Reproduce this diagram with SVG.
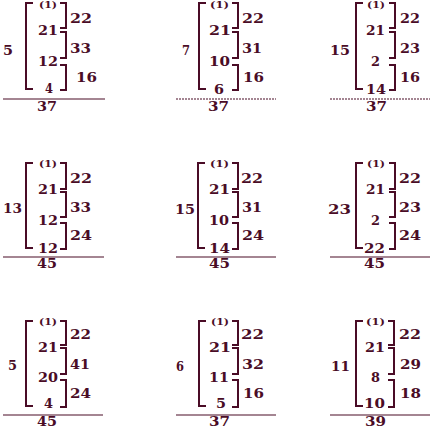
<svg xmlns="http://www.w3.org/2000/svg" width="432" height="430" viewBox="0 0 432 430">
<style>
.b{fill:none;stroke:#4a0c26;stroke-width:2}
.r{stroke:#4a0c26;stroke-width:1.2}
.d{stroke-dasharray:2 1}
text{font-family:"DejaVu Serif","Liberation Serif",serif;font-weight:bold;font-size:12px;fill:#4a0c26}
.s{font-size:9px}
</style>
<rect width="432" height="430" fill="#fff"/>
<g id="p1">
<path class="b" d="M33,3H26V89H33M60,3H66V28H60M60,32H66V58H60M60,65H66V90H60"/>
<text class="s" x="39" y="8" textLength="18" lengthAdjust="spacingAndGlyphs">(1)</text>
<text x="38" y="35" textLength="20" lengthAdjust="spacingAndGlyphs">21</text>
<text x="38" y="66" textLength="20" lengthAdjust="spacingAndGlyphs">12</text>
<text x="45" y="93" textLength="8" lengthAdjust="spacingAndGlyphs">4</text>
<text x="70" y="23" textLength="22" lengthAdjust="spacingAndGlyphs">22</text>
<text x="70" y="53" textLength="21" lengthAdjust="spacingAndGlyphs">33</text>
<text x="76" y="82" textLength="21" lengthAdjust="spacingAndGlyphs">16</text>
<text x="3" y="55" textLength="10" lengthAdjust="spacingAndGlyphs">5</text>
<line class="r" x1="3" y1="99" x2="105" y2="99"/>
<text x="37" y="111" textLength="20" lengthAdjust="spacingAndGlyphs">37</text>
</g>
<g id="p2">
<path class="b" d="M206,3H199V89H206M232,3H238V28H232M232,32H238V58H232M232,65H238V90H232"/>
<text class="s" x="210" y="8" textLength="19" lengthAdjust="spacingAndGlyphs">(1)</text>
<text x="209" y="35" textLength="22" lengthAdjust="spacingAndGlyphs">21</text>
<text x="209" y="66" textLength="21" lengthAdjust="spacingAndGlyphs">10</text>
<text x="214" y="94" textLength="10" lengthAdjust="spacingAndGlyphs">6</text>
<text x="242" y="23" textLength="22" lengthAdjust="spacingAndGlyphs">22</text>
<text x="242" y="53" textLength="20" lengthAdjust="spacingAndGlyphs">31</text>
<text x="243" y="82" textLength="21" lengthAdjust="spacingAndGlyphs">16</text>
<text x="182" y="55" textLength="8" lengthAdjust="spacingAndGlyphs">7</text>
<line class="r d" x1="176" y1="99" x2="276" y2="99"/>
<text x="208" y="111" textLength="21" lengthAdjust="spacingAndGlyphs">37</text>
</g>
<g id="p3">
<path class="b" d="M363,3H356V89H363M389,3H395V28H389M389,32H395V58H389M389,65H395V90H389"/>
<text class="s" x="367" y="8" textLength="18" lengthAdjust="spacingAndGlyphs">(1)</text>
<text x="366" y="35" textLength="19" lengthAdjust="spacingAndGlyphs">21</text>
<text x="371" y="66" textLength="9" lengthAdjust="spacingAndGlyphs">2</text>
<text x="366" y="94" textLength="20" lengthAdjust="spacingAndGlyphs">14</text>
<text x="400" y="23" textLength="20" lengthAdjust="spacingAndGlyphs">22</text>
<text x="400" y="53" textLength="20" lengthAdjust="spacingAndGlyphs">23</text>
<text x="400" y="82" textLength="20" lengthAdjust="spacingAndGlyphs">16</text>
<text x="330" y="55" textLength="20" lengthAdjust="spacingAndGlyphs">15</text>
<line class="r d" x1="330" y1="99" x2="430" y2="99"/>
<text x="366" y="111" textLength="21" lengthAdjust="spacingAndGlyphs">37</text>
</g>
<g id="p4">
<path class="b" d="M33,163H26V248H33M60,163H66V189H60M60,192H66V217H60M60,223H66V249H60"/>
<text class="s" x="39" y="167" textLength="18" lengthAdjust="spacingAndGlyphs">(1)</text>
<text x="38" y="194" textLength="20" lengthAdjust="spacingAndGlyphs">21</text>
<text x="38" y="225" textLength="20" lengthAdjust="spacingAndGlyphs">12</text>
<text x="38" y="253" textLength="20" lengthAdjust="spacingAndGlyphs">12</text>
<text x="70" y="183" textLength="22" lengthAdjust="spacingAndGlyphs">22</text>
<text x="70" y="212" textLength="21" lengthAdjust="spacingAndGlyphs">33</text>
<text x="70" y="240" textLength="22" lengthAdjust="spacingAndGlyphs">24</text>
<text x="3" y="213" textLength="19" lengthAdjust="spacingAndGlyphs">13</text>
<line class="r" x1="3" y1="257" x2="104" y2="257"/>
<text x="37" y="268" textLength="20" lengthAdjust="spacingAndGlyphs">45</text>
</g>
<g id="p5">
<path class="b" d="M205,163H198V248H205M232,163H238V189H232M232,192H238V217H232M232,223H238V249H232"/>
<text class="s" x="210" y="167" textLength="19" lengthAdjust="spacingAndGlyphs">(1)</text>
<text x="209" y="194" textLength="21" lengthAdjust="spacingAndGlyphs">21</text>
<text x="209" y="225" textLength="20" lengthAdjust="spacingAndGlyphs">10</text>
<text x="209" y="253" textLength="21" lengthAdjust="spacingAndGlyphs">14</text>
<text x="241" y="183" textLength="22" lengthAdjust="spacingAndGlyphs">22</text>
<text x="242" y="212" textLength="20" lengthAdjust="spacingAndGlyphs">31</text>
<text x="242" y="240" textLength="22" lengthAdjust="spacingAndGlyphs">24</text>
<text x="175" y="214" textLength="20" lengthAdjust="spacingAndGlyphs">15</text>
<line class="r" x1="176" y1="257" x2="276" y2="257"/>
<text x="209" y="268" textLength="21" lengthAdjust="spacingAndGlyphs">45</text>
</g>
<g id="p6">
<path class="b" d="M363,163H356V248H363M389,163H395V189H389M389,192H395V217H389M389,223H395V249H389"/>
<text class="s" x="367" y="167" textLength="18" lengthAdjust="spacingAndGlyphs">(1)</text>
<text x="366" y="194" textLength="19" lengthAdjust="spacingAndGlyphs">21</text>
<text x="371" y="225" textLength="9" lengthAdjust="spacingAndGlyphs">2</text>
<text x="364" y="253" textLength="21" lengthAdjust="spacingAndGlyphs">22</text>
<text x="399" y="183" textLength="22" lengthAdjust="spacingAndGlyphs">22</text>
<text x="399" y="212" textLength="22" lengthAdjust="spacingAndGlyphs">23</text>
<text x="399" y="240" textLength="22" lengthAdjust="spacingAndGlyphs">24</text>
<text x="328" y="214" textLength="23" lengthAdjust="spacingAndGlyphs">23</text>
<line class="r" x1="330" y1="257" x2="430" y2="257"/>
<text x="364" y="268" textLength="21" lengthAdjust="spacingAndGlyphs">45</text>
</g>
<g id="p7">
<path class="b" d="M33,321H26V406H33M60,321H66V345H60M60,348H66V374H60M60,380H66V407H60"/>
<text class="s" x="39" y="325" textLength="18" lengthAdjust="spacingAndGlyphs">(1)</text>
<text x="38" y="352" textLength="20" lengthAdjust="spacingAndGlyphs">21</text>
<text x="38" y="382" textLength="20" lengthAdjust="spacingAndGlyphs">20</text>
<text x="44" y="408" textLength="9" lengthAdjust="spacingAndGlyphs">4</text>
<text x="70" y="339" textLength="21" lengthAdjust="spacingAndGlyphs">22</text>
<text x="70" y="369" textLength="20" lengthAdjust="spacingAndGlyphs">41</text>
<text x="70" y="398" textLength="21" lengthAdjust="spacingAndGlyphs">24</text>
<text x="8" y="370" textLength="9" lengthAdjust="spacingAndGlyphs">5</text>
<line class="r" x1="3" y1="415" x2="103" y2="415"/>
<text x="37" y="426" textLength="20" lengthAdjust="spacingAndGlyphs">45</text>
</g>
<g id="p8">
<path class="b" d="M206,321H199V406H206M232,321H238V345H232M232,348H238V374H232M232,380H238V407H232"/>
<text class="s" x="211" y="325" textLength="18" lengthAdjust="spacingAndGlyphs">(1)</text>
<text x="209" y="352" textLength="22" lengthAdjust="spacingAndGlyphs">21</text>
<text x="209" y="382" textLength="20" lengthAdjust="spacingAndGlyphs">11</text>
<text x="216" y="408" textLength="10" lengthAdjust="spacingAndGlyphs">5</text>
<text x="241" y="339" textLength="23" lengthAdjust="spacingAndGlyphs">22</text>
<text x="242" y="369" textLength="22" lengthAdjust="spacingAndGlyphs">32</text>
<text x="243" y="398" textLength="21" lengthAdjust="spacingAndGlyphs">16</text>
<text x="176" y="371" textLength="8" lengthAdjust="spacingAndGlyphs">6</text>
<line class="r" x1="176" y1="415" x2="276" y2="415"/>
<text x="209" y="426" textLength="21" lengthAdjust="spacingAndGlyphs">37</text>
</g>
<g id="p9">
<path class="b" d="M363,321H356V406H363M388,321H394V345H388M388,348H394V374H388M388,380H394V407H388"/>
<text class="s" x="366" y="325" textLength="19" lengthAdjust="spacingAndGlyphs">(1)</text>
<text x="365" y="352" textLength="20" lengthAdjust="spacingAndGlyphs">21</text>
<text x="371" y="382" textLength="9" lengthAdjust="spacingAndGlyphs">8</text>
<text x="364" y="408" textLength="21" lengthAdjust="spacingAndGlyphs">10</text>
<text x="399" y="339" textLength="22" lengthAdjust="spacingAndGlyphs">22</text>
<text x="400" y="369" textLength="21" lengthAdjust="spacingAndGlyphs">29</text>
<text x="400" y="398" textLength="21" lengthAdjust="spacingAndGlyphs">18</text>
<text x="331" y="371" textLength="19" lengthAdjust="spacingAndGlyphs">11</text>
<line class="r" x1="330" y1="415" x2="430" y2="415"/>
<text x="365" y="426" textLength="21" lengthAdjust="spacingAndGlyphs">39</text>
</g>
</svg>
